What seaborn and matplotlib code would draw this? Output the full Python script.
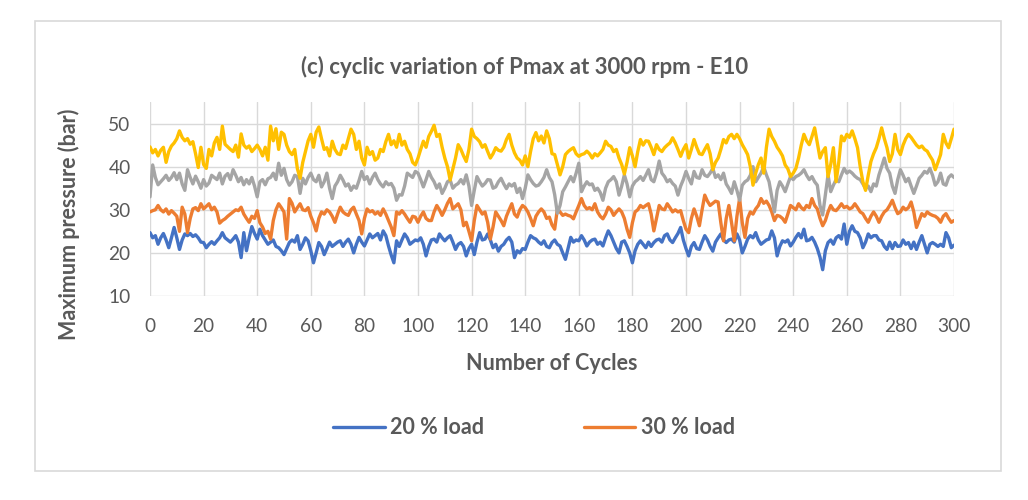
import matplotlib
matplotlib.use("Agg")
import matplotlib.pyplot as plt
from matplotlib.patches import Rectangle
import numpy as np
import pandas as pd
import seaborn as sns

# values, one per cycle (0..300)
cycles = list(range(301))

load_20 = [
    24.7, 23.5, 24.0, 22.0, 23.5, 24.5, 23.0, 21.2, 23.5, 25.9,
    23.5, 20.8, 23.0, 24.4, 24.0, 24.5, 23.8, 24.2, 23.5, 22.5,
    22.4, 21.2, 22.0, 22.6, 22.0, 22.8, 23.5, 24.7, 23.5, 23.0,
    22.5, 23.2, 24.0, 22.5, 18.9, 24.7, 20.5, 23.5, 26.1, 24.5,
    23.2, 25.5, 24.0, 23.0, 22.0, 22.5, 23.0, 21.5, 21.2, 20.5,
    19.6, 21.0, 22.4, 23.0, 22.5, 24.0, 20.8, 22.0, 23.5, 22.8,
    20.5, 17.7, 20.0, 22.4, 21.5, 19.6, 21.0, 22.5, 21.5, 22.0,
    22.5, 22.8, 21.5, 22.5, 23.2, 22.0, 20.0, 22.0, 23.6, 22.5,
    21.6, 23.0, 24.4, 23.5, 24.0, 24.5, 23.0, 25.1, 24.0, 21.6,
    19.5, 17.7, 22.8, 21.5, 23.0, 24.4, 23.5, 22.0, 22.5, 23.0,
    22.8, 23.5, 22.0, 19.3, 21.5, 23.0, 23.2, 22.5, 24.4, 23.5,
    22.8, 23.5, 24.0, 22.5, 20.8, 22.0, 22.4, 21.5, 19.3, 21.0,
    22.0, 19.6, 22.5, 24.7, 23.0, 23.2, 24.4, 23.0, 21.2, 22.0,
    20.4, 21.5, 22.0, 23.0, 23.6, 22.5, 18.9, 20.5, 20.0, 21.0,
    20.8, 22.5, 24.0, 23.5, 23.2, 22.5, 22.0, 22.8, 21.5, 21.2,
    22.4, 23.0, 22.0, 21.6, 20.0, 18.5, 21.0, 23.6, 22.5, 23.0,
    22.8, 24.0, 23.0, 21.6, 22.5, 23.0, 23.2, 22.0, 22.5, 21.6,
    23.5, 25.1, 24.0, 22.5, 21.0, 20.0, 22.5, 22.8, 21.5, 20.0,
    17.7, 20.5, 22.0, 22.8, 22.0, 21.2, 22.5, 21.5, 22.4, 23.0,
    23.2, 22.5, 24.0, 24.4, 23.0, 22.4, 23.5, 24.5, 25.9, 23.0,
    21.0, 19.3, 21.5, 22.4, 21.0, 20.8, 22.5, 24.0, 23.0, 21.5,
    20.4, 22.5, 23.5, 24.4, 23.0, 22.4, 23.0, 23.2, 22.5, 24.4,
    23.0, 20.0, 21.5, 23.2, 24.0, 23.5, 24.7, 23.0, 22.0, 22.5,
    23.0, 23.2, 25.1, 23.5, 19.3, 21.5, 22.8, 22.5, 23.0, 21.6,
    22.5, 23.6, 24.5, 23.5, 25.5, 22.8, 23.0, 23.6, 22.5, 21.0,
    19.0, 16.1, 20.5, 22.4, 23.0, 22.0, 23.5, 24.0, 23.2, 26.7,
    22.0, 25.0, 26.3, 25.0, 24.7, 23.5, 21.2, 22.5, 24.4, 23.5,
    24.0, 24.0, 23.0, 22.8, 21.5, 20.8, 22.5, 21.0, 22.4, 21.5,
    21.6, 23.0, 22.0, 22.4, 21.0, 22.5, 20.8, 22.5, 24.0, 22.0,
    20.0, 22.0, 22.4, 22.0, 21.5, 22.0, 21.5, 24.7, 23.5, 21.2,
    21.8,
]

load_30 = [
    29.5, 29.8, 30.0, 31.0, 30.0, 29.5, 30.2, 29.0, 29.8, 29.2,
    28.5, 25.0, 30.6, 29.0, 24.7, 28.0, 30.2, 30.5, 29.8, 31.4,
    30.2, 30.8, 31.4, 30.0, 30.6, 29.5, 26.9, 27.5, 27.9, 28.5,
    29.0, 29.5, 30.0, 29.8, 30.6, 29.0, 28.0, 27.1, 28.5, 28.0,
    29.8, 27.0, 26.0, 24.5, 25.0, 23.2, 27.5, 30.0, 31.4, 30.5,
    29.5, 23.2, 32.6, 31.5, 29.5, 30.5, 31.4, 30.0, 29.8, 30.5,
    28.5, 27.0, 25.1, 28.0, 29.5, 29.0, 30.0, 29.5, 28.5, 27.1,
    29.0, 30.6, 29.5, 29.0, 28.7, 30.0, 30.6, 29.0, 27.5, 24.4,
    28.0, 30.2, 29.5, 29.8, 29.0, 29.5, 28.7, 30.2, 29.0, 27.5,
    26.0, 24.0, 29.5, 29.0, 29.8, 29.0, 28.0, 27.1, 28.5, 28.3,
    27.1, 28.5, 29.5, 28.0, 27.5, 27.5, 29.5, 31.0, 30.0, 28.7,
    30.0, 31.5, 32.6, 30.2, 30.8, 31.4, 30.0, 26.3, 27.1, 25.0,
    22.8, 27.5, 31.0, 30.0, 29.0, 29.5, 27.1, 23.2, 26.0, 29.5,
    28.5, 27.5, 26.3, 28.5, 30.0, 31.4, 29.0, 28.3, 30.0, 31.0,
    30.5, 29.5, 28.0, 26.3, 28.5, 29.5, 30.2, 29.5, 28.0, 28.3,
    26.5, 25.5, 30.2, 29.5, 28.7, 29.0, 28.7, 28.5, 27.9, 29.5,
    31.0, 32.6, 31.0, 30.2, 30.5, 30.0, 31.4, 29.5, 28.5, 27.9,
    29.0, 30.6, 30.0, 28.7, 29.5, 30.2, 29.5, 28.0, 25.5, 23.6,
    27.0, 29.5, 30.0, 31.0, 30.5, 31.0, 31.4, 29.0, 25.1, 28.0,
    31.0, 30.2, 30.0, 31.4, 30.5, 29.5, 30.0, 29.5, 29.8, 27.5,
    25.5, 24.7, 28.0, 30.2, 28.5, 26.3, 30.0, 33.4, 32.0, 31.0,
    31.5, 32.0, 31.8, 27.0, 22.8, 28.0, 31.0, 27.0, 22.8, 28.5,
    32.6, 27.0, 23.6, 28.0, 29.5, 29.0, 30.2, 31.0, 32.6, 31.5,
    32.0, 31.0, 29.5, 27.5, 28.7, 28.5, 28.0, 27.1, 29.0, 31.0,
    30.5, 30.0, 31.4, 30.5, 30.0, 31.0, 30.5, 32.6, 31.0, 30.2,
    28.0, 26.3, 27.5, 29.5, 31.0, 30.0, 29.8, 30.5, 31.4, 30.5,
    30.8, 30.2, 30.5, 31.4, 30.5, 29.5, 29.1, 28.0, 27.1, 28.5,
    29.5, 28.5, 27.1, 28.5, 29.5, 30.0, 31.0, 32.2, 30.5, 29.1,
    29.5, 30.6, 30.0, 30.5, 31.8, 29.5, 25.9, 27.5, 29.1, 28.5,
    29.5, 29.0, 28.7, 28.5, 28.0, 27.1, 28.5, 29.1, 28.0, 27.1,
    27.5,
]

load_40 = [
    33.0, 40.4, 37.5, 35.8, 36.5, 37.2, 38.0, 36.8, 37.5, 38.6,
    37.0, 38.5, 36.0, 34.5, 39.3, 37.5, 36.0, 37.8, 36.5, 35.0,
    37.0, 35.5, 36.2, 38.0, 37.5, 37.0, 38.5, 36.0, 37.8, 38.4,
    37.0, 39.3, 38.0, 36.5, 37.5, 35.8, 37.0, 36.0, 37.5, 35.5,
    33.0, 36.5, 37.0, 35.8, 37.2, 37.5, 38.5, 37.0, 40.8, 38.0,
    39.6, 37.0, 35.7, 36.5, 38.0, 37.7, 33.8, 37.3, 36.0, 37.5,
    38.5, 37.0, 36.5, 38.0, 35.3, 36.5, 38.5, 35.0, 32.6, 35.5,
    36.5, 38.0, 36.9, 35.5, 36.0, 34.5, 35.5, 35.0, 36.8, 38.9,
    37.0, 37.7, 36.0, 37.5, 38.5, 37.0, 36.0, 35.3, 36.5, 35.8,
    36.1, 35.0, 32.2, 33.5, 33.4, 35.5, 38.5, 38.0, 37.5, 38.9,
    38.5, 37.0, 35.3, 37.0, 38.9, 37.5, 36.5, 35.0, 36.0, 33.8,
    35.0, 36.5, 36.9, 35.0, 35.7, 36.1, 37.0, 36.0, 38.1, 35.5,
    31.0, 34.5, 37.7, 36.5, 35.5, 36.1, 37.0, 36.9, 35.0, 35.3,
    36.5, 37.3, 36.0, 34.9, 36.0, 35.5, 36.1, 34.0, 35.0, 32.6,
    35.0, 38.1, 37.0, 36.1, 35.5, 35.7, 36.5, 37.5, 39.3, 37.5,
    36.5, 33.5, 29.2, 31.0, 34.2, 35.3, 36.5, 37.7, 36.5, 38.5,
    40.8, 34.2, 35.5, 36.5, 35.8, 36.0, 34.5, 35.0, 34.0, 32.2,
    35.0, 36.5, 37.0, 37.7, 36.5, 33.4, 35.5, 38.1, 36.0, 33.0,
    35.5, 36.5, 37.0, 37.7, 36.8, 38.0, 39.3, 37.0, 36.5, 38.5,
    41.3, 38.5, 37.7, 36.5, 37.0, 36.1, 35.5, 33.4, 35.5, 37.0,
    38.9, 37.3, 36.0, 38.9, 37.5, 37.3, 39.3, 38.0, 37.7, 38.5,
    39.6, 37.5, 38.1, 37.0, 38.5, 36.0, 35.0, 33.8, 36.5, 34.5,
    32.2, 35.7, 36.5, 36.9, 38.0, 40.0, 36.5, 37.5, 38.5, 40.0,
    38.1, 36.5, 33.0, 29.5, 34.5, 36.5, 35.5, 34.2, 36.0, 37.7,
    37.0, 37.7, 38.0, 38.5, 39.3, 38.0, 37.0, 37.7, 36.5, 35.7,
    31.0, 28.8, 33.4, 38.1, 34.2, 35.7, 37.0, 36.5, 38.1, 39.6,
    38.5, 39.0, 38.5, 37.8, 37.3, 37.0, 36.0, 34.9, 35.5, 34.2,
    36.0, 35.5, 38.1, 40.0, 42.0, 39.6, 38.5, 35.5, 33.8, 37.0,
    39.3, 38.0, 36.5, 37.3, 35.5, 33.8, 35.5, 37.3, 38.0, 38.9,
    38.5, 39.6, 38.0, 35.7, 36.5, 38.5, 36.0, 35.7, 37.5, 38.1,
    37.5,
]

load_50 = [
    44.6, 43.2, 44.0, 42.5, 43.8, 44.5, 41.0, 43.5, 44.8, 45.5,
    46.5, 48.3, 46.8, 46.0, 46.5, 45.2, 45.8, 43.0, 39.8, 44.5,
    40.5, 39.6, 44.0, 42.5, 45.5, 46.8, 44.0, 49.4, 45.2, 44.6,
    44.0, 43.5, 45.0, 42.2, 47.6, 45.0, 44.3, 44.8, 43.5, 44.2,
    45.0, 44.0, 42.5, 44.5, 41.5, 49.4, 46.0, 48.8, 44.0, 48.0,
    47.5, 45.0, 43.5, 42.8, 44.0, 39.5, 37.3, 41.0, 43.5, 46.0,
    47.5, 44.5, 48.0, 49.2, 46.5, 44.0, 44.4, 42.5, 45.9, 44.0,
    43.0, 42.8, 45.0, 44.2, 46.5, 48.7, 47.5, 44.0, 45.9, 42.0,
    40.4, 44.5, 42.8, 43.5, 41.5, 42.0, 44.0, 43.5, 45.8, 47.5,
    45.1, 46.0, 44.5, 47.5, 45.0, 45.9, 44.0, 43.0, 41.0, 40.4,
    42.0, 44.0, 45.9, 44.5, 47.0, 48.2, 49.6, 47.0, 47.5, 44.5,
    42.0, 40.0, 36.9, 39.5, 42.0, 45.1, 44.0, 42.5, 41.2, 44.0,
    48.7, 47.0, 46.5, 45.8, 44.5, 45.1, 43.5, 42.0, 43.0, 44.4,
    43.8, 43.6, 44.5, 46.3, 47.5, 45.0, 43.2, 42.0, 41.5, 40.4,
    42.5, 40.0, 43.5, 46.5, 47.9, 46.0, 47.1, 45.5, 48.3, 46.5,
    43.0, 42.8, 40.5, 38.1, 40.0, 42.8, 43.5, 44.0, 44.4, 43.0,
    42.4, 42.8, 43.0, 43.6, 43.0, 42.0, 43.0, 42.5, 43.2, 44.0,
    45.9, 45.0, 44.7, 43.5, 44.0, 42.0, 40.5, 38.3, 41.0, 44.4,
    42.5, 40.0, 43.5, 46.3, 45.0, 46.0, 45.9, 44.5, 42.8, 45.1,
    44.0, 43.5, 44.4, 45.0, 45.5, 46.7, 45.5, 44.0, 42.4, 44.0,
    45.1, 42.0, 44.0, 46.3, 44.5, 43.0, 42.8, 44.0, 45.1, 43.0,
    39.3, 41.0, 42.0, 44.0, 46.3, 45.5, 47.0, 47.5, 46.5, 47.5,
    46.5, 45.1, 44.0, 42.8, 40.0, 35.7, 38.5, 40.5, 42.0, 38.5,
    44.5, 48.7, 47.0, 45.9, 44.5, 43.6, 42.5, 40.4, 39.5, 37.7,
    38.5, 39.6, 42.0, 45.0, 47.5, 46.0, 45.1, 47.0, 49.0, 45.5,
    42.0, 43.5, 44.4, 37.7, 40.5, 44.4, 36.5, 41.0, 47.1, 46.0,
    47.5, 46.8, 48.3, 46.5, 44.4, 40.0, 36.5, 34.5, 38.0, 41.2,
    43.0, 44.4, 46.5, 49.0, 46.5, 44.4, 41.2, 43.0, 47.5, 44.0,
    42.8, 45.0, 46.5, 47.5, 46.8, 45.9, 45.0, 44.4, 44.8, 44.0,
    43.6, 42.5, 41.5, 39.3, 41.0, 42.8, 47.5, 45.5, 44.4, 46.5,
    48.7,
]

series_names = ["20 % load", "30 % load", "40 % load", "50 % load"]
series_colors = ["#4472C4", "#ED7D31", "#A5A5A5", "#FFC000"]
x_ticks = list(range(0, 301, 20))
y_ticks = [10, 20, 30, 40, 50]

text_color = "#595959"
grid_color = "#D9D9D9"

sns.set_theme(style="white")
plt.rcParams["font.family"] = ["Lato", "DejaVu Sans"]

fig = plt.figure(figsize=(10.28, 5), dpi=100)
fig.patches.append(Rectangle((35 / 1028, 1 - 471 / 500), 966 / 1028, 450 / 500,
                             transform=fig.transFigure, fill=False,
                             edgecolor=grid_color, lw=1.2))
ax = fig.add_axes([150 / 1028, 1 - 296 / 500, 804 / 1028, 194 / 500])

for name, vals, color in zip(series_names,
                             [load_20, load_30, load_40, load_50],
                             series_colors):
    df = pd.DataFrame({"cycle": cycles, "pmax": vals})
    sns.lineplot(data=df, x="cycle", y="pmax", ax=ax, color=color,
                 linewidth=2.4, label=name, legend=False)

ax.set_xlim(0, 300)
ax.set_ylim(10, 55)
ax.set_xticks(x_ticks)
ax.set_yticks(y_ticks)
ax.grid(True, color=grid_color, linewidth=1)
ax.set_axisbelow(True)
for s in ax.spines.values():
    s.set_visible(False)
ax.tick_params(axis="both", length=0, labelsize=13.8, labelcolor=text_color)
ax.tick_params(axis="x", pad=16)
ax.tick_params(axis="y", pad=14)
ax.set_xlabel("")
ax.set_ylabel("")

fig.text(525 / 1028, 1 - 67 / 500, "(c) cyclic variation of Pmax at 3000 rpm - E10",
         ha="center", va="center", fontsize=16, fontweight="bold", color=text_color)
fig.text(552 / 1028, 1 - 363 / 500, "Number of Cycles",
         ha="center", va="center", fontsize=15.5, fontweight="bold", color=text_color)
fig.text(69 / 1028, 1 - 224 / 500, "Maximum pressure (bar)", rotation=90,
         ha="center", va="center", fontsize=15.5, fontweight="bold", color=text_color)

handles, labels = ax.get_legend_handles_labels()
leg = fig.legend(handles[:2], labels[:2], loc="center",
                 bbox_to_anchor=(534 / 1028, 1 - 428 / 500), ncol=2,
                 frameon=False, handlelength=2.4, handletextpad=0.25,
                 columnspacing=4.6, prop={"weight": "bold", "size": 15.5})
for t in leg.get_texts():
    t.set_color(text_color)

fig.savefig("out.png", dpi=100)
